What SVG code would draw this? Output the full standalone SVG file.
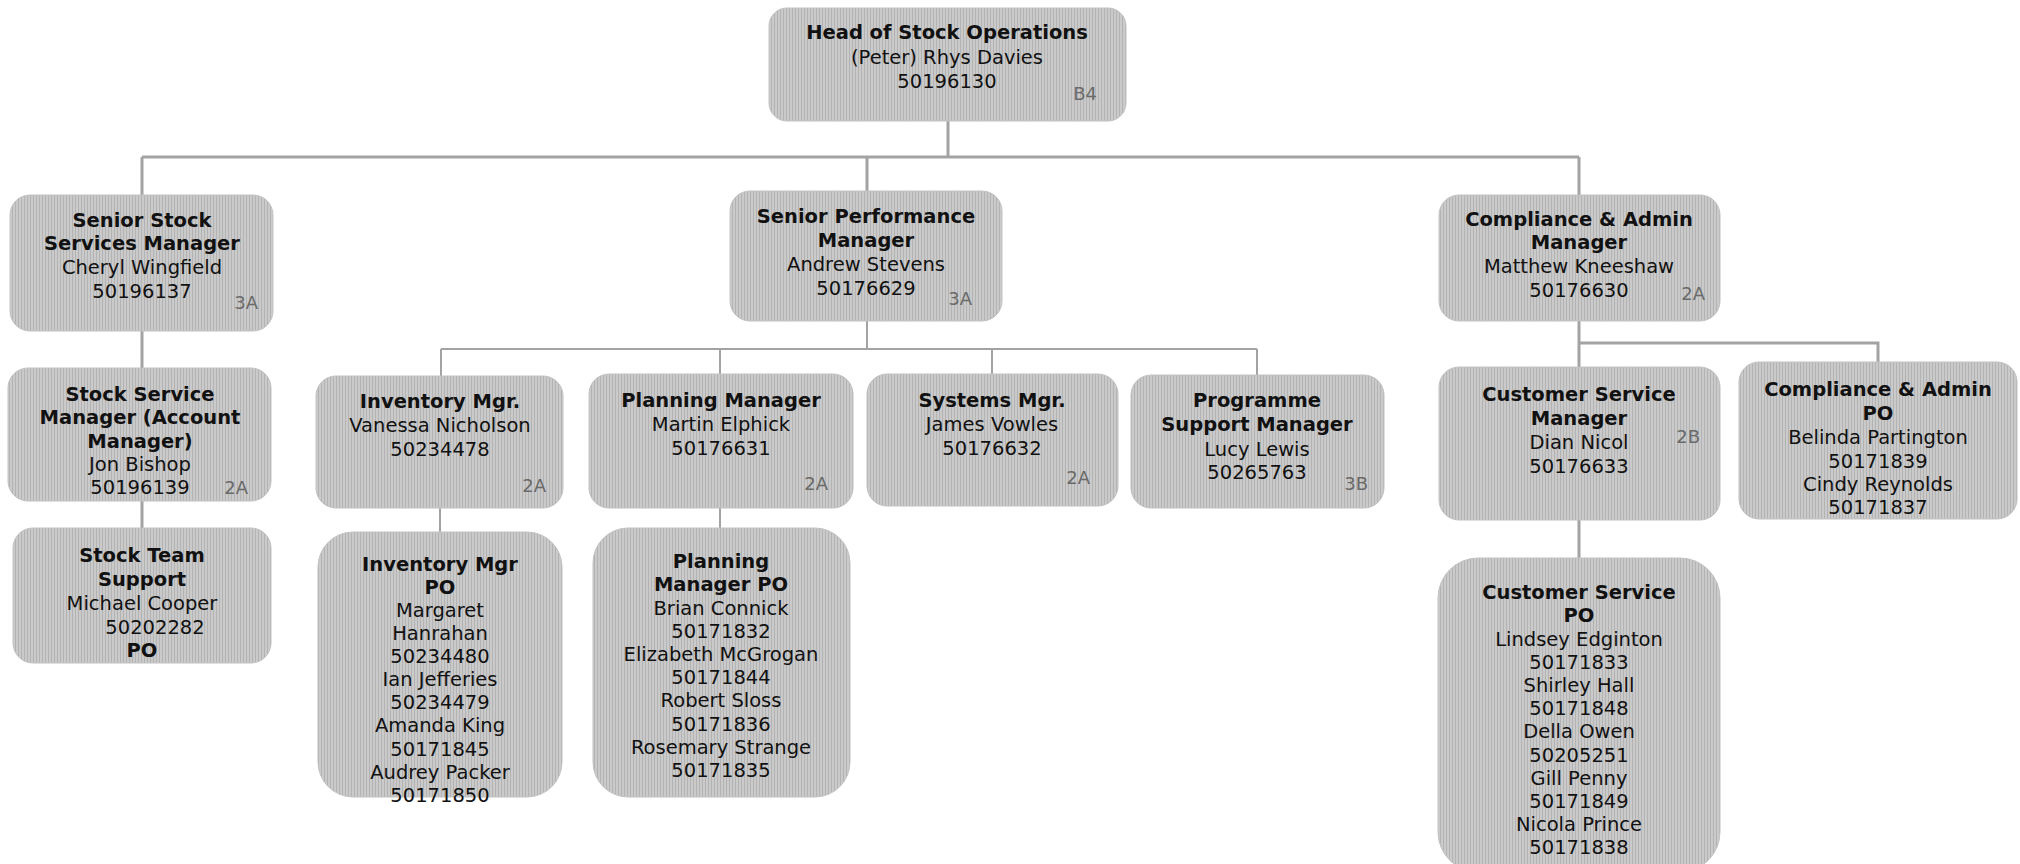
<svg xmlns="http://www.w3.org/2000/svg" width="2020" height="864" viewBox="0 0 2020 864">
<defs>
<pattern id="stripes" width="3" height="12" patternUnits="userSpaceOnUse">
<rect width="3" height="12" fill="#cacaca"/>
<rect width="1" height="12" fill="#b3b3b3"/>
</pattern>
<style>
.box{fill:url(#stripes);stroke:#c2c2c2;stroke-width:1}
text{font-family:"DejaVu Sans",Verdana,sans-serif;font-size:19.5px;fill:#111;text-anchor:middle}
.b{font-weight:bold}
text.g{fill:#6a6a6a;text-anchor:end;font-size:18px}
.c{fill:none;stroke:#a3a3a3;stroke-width:3}
.c2{fill:none;stroke:#a3a3a3;stroke-width:2}
</style>
</defs>
<rect width="2020" height="864" fill="#ffffff"/>
<g id="connectors">
<path class="c" d="M948 121 V157 M142 157 H1579 M142 157 V195 M867 157 V191 M1579 157 V195"/>
<path class="c" d="M142 331 V368 M142 501 V528"/>
<path class="c2" d="M867 321 V349 M441 349 H1257 M441 349 V376 M720 349 V374 M992 349 V374 M1257 349 V375"/>
<path class="c2" d="M440 508 V532 M720 508 V528"/>
<path class="c" d="M1579 321 V367 M1579 343 H1878 V362 M1579 520 V558"/>
</g>
<g id="head">
<rect class="box" x="769" y="8" width="357" height="113" rx="18"/>
<text><tspan class="b" x="947" y="39">Head of Stock Operations</tspan><tspan x="947" y="64">(Peter) Rhys Davies</tspan><tspan x="947" y="88">50196130</tspan></text>
<text class="g" x="1097" y="100">B4</text>
</g>
<g id="senior-stock">
<rect class="box" x="10" y="195" width="263" height="136" rx="20"/>
<text><tspan class="b" x="142" y="227">Senior Stock</tspan><tspan class="b" x="142" y="250">Services Manager</tspan><tspan x="142" y="274">Cheryl Wingfield</tspan><tspan x="142" y="298">50196137</tspan></text>
<text class="g" x="258" y="309">3A</text>
</g>
<g id="senior-perf">
<rect class="box" x="730" y="191" width="272" height="130" rx="20"/>
<text><tspan class="b" x="866" y="223">Senior Performance</tspan><tspan class="b" x="866" y="247">Manager</tspan><tspan x="866" y="271">Andrew Stevens</tspan><tspan x="866" y="295">50176629</tspan></text>
<text class="g" x="972" y="305">3A</text>
</g>
<g id="compliance-mgr">
<rect class="box" x="1439" y="195" width="281" height="126" rx="20"/>
<text><tspan class="b" x="1579" y="226">Compliance &amp; Admin</tspan><tspan class="b" x="1579" y="249">Manager</tspan><tspan x="1579" y="273">Matthew Kneeshaw</tspan><tspan x="1579" y="297">50176630</tspan></text>
<text class="g" x="1705" y="300">2A</text>
</g>
<g id="stock-service-mgr">
<rect class="box" x="8" y="368" width="263" height="133" rx="20"/>
<text><tspan class="b" x="140" y="401">Stock Service</tspan><tspan class="b" x="140" y="424">Manager (Account</tspan><tspan class="b" x="140" y="448">Manager)</tspan><tspan x="140" y="471">Jon Bishop</tspan><tspan x="140" y="494">50196139</tspan></text>
<text class="g" x="248" y="494">2A</text>
</g>
<g id="stock-team-support">
<rect class="box" x="13" y="528" width="258" height="135" rx="20"/>
<text><tspan class="b" x="142" y="562">Stock Team</tspan><tspan class="b" x="142" y="586">Support</tspan><tspan x="142" y="610">Michael Cooper</tspan><tspan x="155" y="634">50202282</tspan><tspan class="b" x="142" y="657">PO</tspan></text>
</g>
<g id="inventory-mgr">
<rect class="box" x="316" y="376" width="247" height="132" rx="20"/>
<text><tspan class="b" x="440" y="408">Inventory Mgr.</tspan><tspan x="440" y="432">Vanessa Nicholson</tspan><tspan x="440" y="456">50234478</tspan></text>
<text class="g" x="546" y="492">2A</text>
</g>
<g id="planning-mgr">
<rect class="box" x="589" y="374" width="264" height="134" rx="20"/>
<text><tspan class="b" x="721" y="407">Planning Manager</tspan><tspan x="721" y="431">Martin Elphick</tspan><tspan x="721" y="455">50176631</tspan></text>
<text class="g" x="828" y="490">2A</text>
</g>
<g id="systems-mgr">
<rect class="box" x="867" y="374" width="251" height="132" rx="20"/>
<text><tspan class="b" x="992" y="407">Systems Mgr.</tspan><tspan x="992" y="431">James Vowles</tspan><tspan x="992" y="455">50176632</tspan></text>
<text class="g" x="1090" y="484">2A</text>
</g>
<g id="programme-support">
<rect class="box" x="1131" y="375" width="253" height="133" rx="20"/>
<text><tspan class="b" x="1257" y="407">Programme</tspan><tspan class="b" x="1257" y="431">Support Manager</tspan><tspan x="1257" y="456">Lucy Lewis</tspan><tspan x="1257" y="479">50265763</tspan></text>
<text class="g" x="1368" y="490">3B</text>
</g>
<g id="customer-service-mgr">
<rect class="box" x="1439" y="367" width="281" height="153" rx="20"/>
<text><tspan class="b" x="1579" y="401">Customer Service</tspan><tspan class="b" x="1579" y="425">Manager</tspan><tspan x="1579" y="449">Dian Nicol</tspan><tspan x="1579" y="473">50176633</tspan></text>
<text class="g" x="1700" y="443">2B</text>
</g>
<g id="compliance-po">
<rect class="box" x="1739" y="362" width="278" height="157" rx="20"/>
<text><tspan class="b" x="1878" y="396">Compliance &amp; Admin</tspan><tspan class="b" x="1878" y="420">PO</tspan><tspan x="1878" y="444">Belinda Partington</tspan><tspan x="1878" y="468">50171839</tspan><tspan x="1878" y="491">Cindy Reynolds</tspan><tspan x="1878" y="514">50171837</tspan></text>
</g>
<g id="inventory-po">
<rect class="box" x="318" y="532" width="244" height="265" rx="35"/>
<text><tspan class="b" x="440" y="571">Inventory Mgr</tspan><tspan class="b" x="440" y="594">PO</tspan><tspan x="440" y="617">Margaret</tspan><tspan x="440" y="640">Hanrahan</tspan><tspan x="440" y="663">50234480</tspan><tspan x="440" y="686">Ian Jefferies</tspan><tspan x="440" y="709">50234479</tspan><tspan x="440" y="732">Amanda King</tspan><tspan x="440" y="756">50171845</tspan><tspan x="440" y="779">Audrey Packer</tspan><tspan x="440" y="802">50171850</tspan></text>
</g>
<g id="planning-po">
<rect class="box" x="593" y="528" width="257" height="269" rx="35"/>
<text><tspan class="b" x="721" y="568">Planning</tspan><tspan class="b" x="721" y="591">Manager PO</tspan><tspan x="721" y="615">Brian Connick</tspan><tspan x="721" y="638">50171832</tspan><tspan x="721" y="661">Elizabeth McGrogan</tspan><tspan x="721" y="684">50171844</tspan><tspan x="721" y="707">Robert Sloss</tspan><tspan x="721" y="731">50171836</tspan><tspan x="721" y="754">Rosemary Strange</tspan><tspan x="721" y="777">50171835</tspan></text>
</g>
<g id="customer-service-po">
<rect class="box" x="1438" y="558" width="282" height="314" rx="40"/>
<text><tspan class="b" x="1579" y="599">Customer Service</tspan><tspan class="b" x="1579" y="622">PO</tspan><tspan x="1579" y="646">Lindsey Edginton</tspan><tspan x="1579" y="669">50171833</tspan><tspan x="1579" y="692">Shirley Hall</tspan><tspan x="1579" y="715">50171848</tspan><tspan x="1579" y="738">Della Owen</tspan><tspan x="1579" y="762">50205251</tspan><tspan x="1579" y="785">Gill Penny</tspan><tspan x="1579" y="808">50171849</tspan><tspan x="1579" y="831">Nicola Prince</tspan><tspan x="1579" y="854">50171838</tspan></text>
</g>
</svg>
